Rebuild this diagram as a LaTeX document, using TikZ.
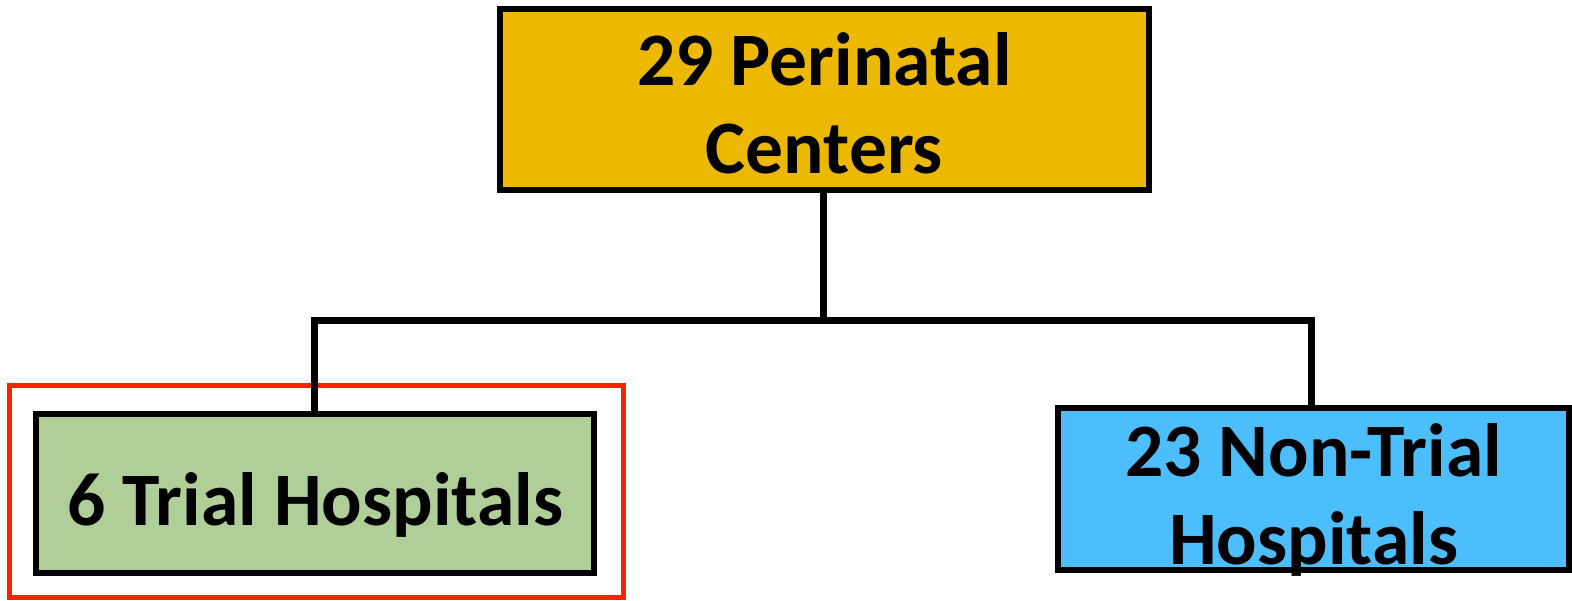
\documentclass[tikz,border=0pt]{standalone}
\usepackage{fontspec}
\setmainfont{Carlito}
\definecolor{goldfill}{HTML}{EDB800}
\definecolor{greenfill}{HTML}{B0CE97}
\definecolor{bluefill}{HTML}{4DBEFC}
\definecolor{redframe}{HTML}{FF2200}
\tikzset{
  box/.style={draw=black, line width=6pt, rectangle, inner sep=0pt, align=center,
    font=\fontsize{75.5}{88}\selectfont\bfseries},
  wire/.style={draw=black, line width=7pt},
  highlight/.style={draw=redframe, line width=5pt, rectangle, inner sep=0pt}
}
\begin{document}
\begin{tikzpicture}[x=1pt, y=-1pt]
  \useasboundingbox (0,0) rectangle (1572,600);
  % top level (two-line texts sit on their last baseline)
  \node[box, fill=goldfill, minimum width=649pt, minimum height=181pt,
        text height=147pt, text depth=0pt] (top) at (824.5,99.5)
    {29 Perinatal\\Centers};
  % trial branch, with its red frame
  \node[highlight, minimum width=614pt, minimum height=212pt] (frame) at (316.5,491.5) {};
  \node[box, fill=greenfill, minimum width=558pt, minimum height=159pt,
        text height=63pt, text depth=0pt] (trial) at (315,493.5)
    {6 Trial Hospitals};
  % non-trial branch
  \node[box, fill=bluefill, minimum width=511pt, minimum height=162pt,
        text height=150pt, text depth=0pt] (nontrial) at (1313.5,489)
    {23 Non-Trial\\Hospitals};
  % tree connectors
  \coordinate (split) at (823,320);
  \draw[wire] (top.south -| split) -- (split);
  \draw[wire] (trial.north -| 314.5,0) |- (split) -| (nontrial.north -| 1311,0);
\end{tikzpicture}
\end{document}
